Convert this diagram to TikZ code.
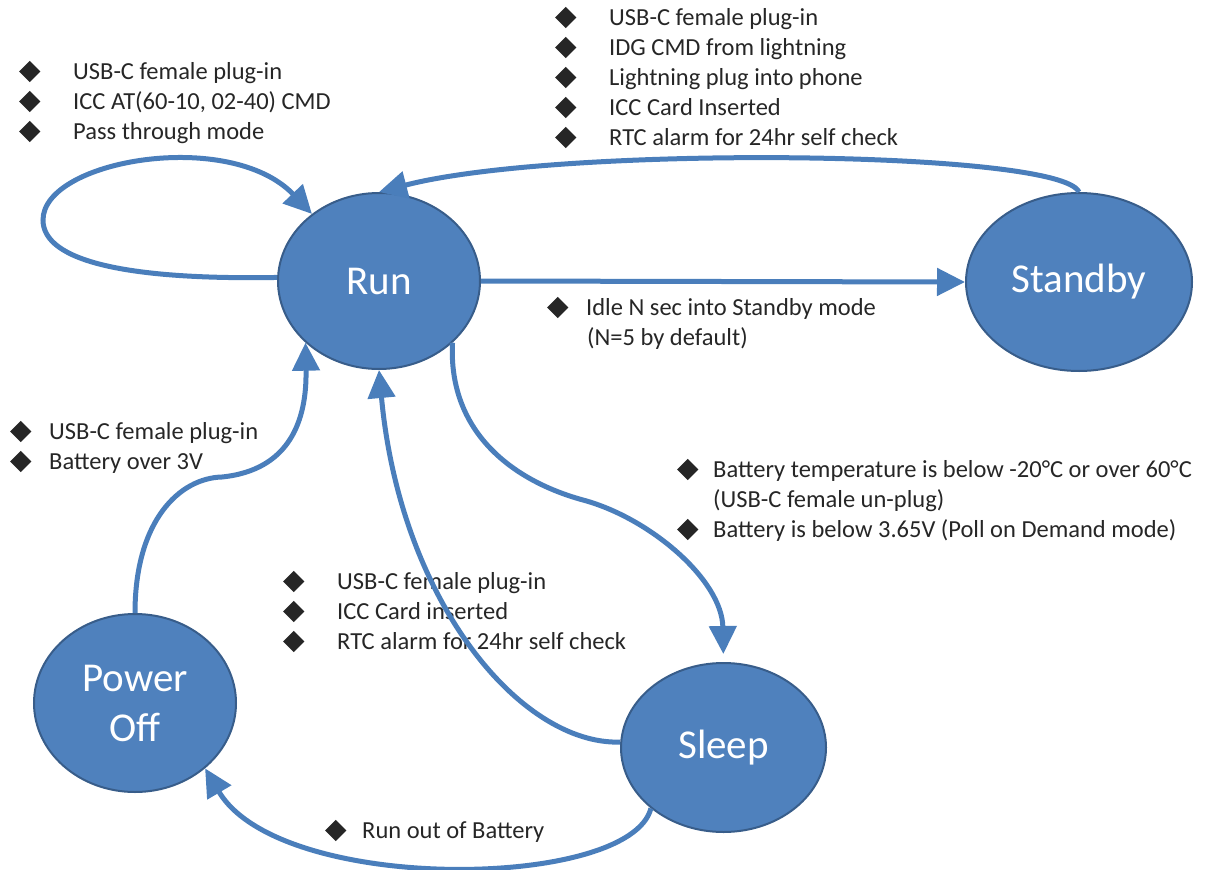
\documentclass[tikz,border=0pt]{standalone}
\usepackage{fontspec}
\setmainfont{Carlito}
\usetikzlibrary{arrows.meta,shapes.geometric}
\definecolor{stateblue}{HTML}{4F81BD}
\definecolor{stateedge}{HTML}{385D8A}
\definecolor{linkblue}{HTML}{4A7EBB}
\newcommand{\dia}{\rotatebox[origin=c]{45}{\rule{15pt}{15pt}}}
\newcommand{\itm}[2][54pt]{\makebox[#1][l]{\dia}#2}

\begin{document}
\begin{tikzpicture}[
  x=1pt,y=-1pt,
  state/.style={draw=stateedge,line width=2pt,ellipse,fill=stateblue,text=white,
    inner sep=0pt,font=\fontsize{41}{50}\selectfont},
  note/.style={anchor=base west,inner sep=0pt,align=left,text=black!85,
    font=\fontsize{24.5}{30}\selectfont},
  to/.style={-{Triangle[length=28pt,width=27pt]},line width=5pt,draw=linkblue}]

  \useasboundingbox (0,0) rectangle (1210,870);

  % Position the states at their coordinates
  \node[state,minimum width=202pt,minimum height=176pt] (Run) at (379,281) {Run};
  \node[state,minimum width=226pt,minimum height=178pt] (Standby) at (1079,282) {Standby};
  \node[state,minimum width=205pt,minimum height=169pt] (Sleep) at (723.5,747.5) {Sleep};
  \node[state,minimum width=202pt,minimum height=178pt,align=center] (PowerOff) at (135,703) {Power\\Off};

  % Conditions beside the transitions (placed by their last line)
  \node[note] (loopNote) at (19,139) {\itm{USB-C female plug-in}\\\itm{ICC AT(60-10, 02-40) CMD}\\\itm{Pass through mode}};
  \node[note] (wakeNote) at (555,145) {\itm{USB-C female plug-in}\\\itm{IDG CMD from lightning}\\\itm{Lightning plug into phone}\\\itm{ICC Card Inserted}\\\itm{RTC alarm for 24hr self check}};
  \node[note] (idleNote) at (547,345) {\itm[39pt]{Idle N sec into Standby mode}\\\hspace*{40pt}(N=5 by default)};
  \node[note] (powerNote) at (10,469) {\itm[39pt]{USB-C female plug-in}\\\itm[39pt]{Battery over 3V}};
  \node[note] (sleepNote) at (677,537) {\itm[36pt]{Battery temperature is below -20°C or over 60°C}\\\hspace*{36pt}(USB-C female un-plug)\\\itm[36pt]{Battery is below 3.65V (Poll on Demand mode)}};
  \node[note] (resumeNote) at (283,649) {\itm{USB-C female plug-in}\\\itm{ICC Card inserted}\\\itm{RTC alarm for 24hr self check}};
  \node[note] (battNote) at (325,838) {\itm[37pt]{Run out of Battery}};

  % Draw the transitions between the states
  \draw[to] (Run.178) .. controls (130,280) and (43,262) .. (43,220)
    .. controls (43,160) and (230,128) .. (Run.135);
  \draw[to] (Standby.north) .. controls (1060,150) and (560,145) .. (Run.north);
  \draw[to] (Run.east) -- (Standby.west);
  \draw[to,shorten >=8pt] (Run.320) .. controls (448,430) and (510,480) .. (583,500)
    .. controls (650,518) and (722,580) .. (Sleep.north);
  \draw[to] (Sleep.177) .. controls (520,745) and (400,600) .. (Run.south);
  \draw[to] (Sleep.220) .. controls (630,890) and (280,895) .. (PowerOff.317);
  \draw[to] (PowerOff.north) .. controls (135,520) and (180,478) .. (222,477)
    .. controls (290,470) and (307,420) .. (Run.220);
\end{tikzpicture}
\end{document}
